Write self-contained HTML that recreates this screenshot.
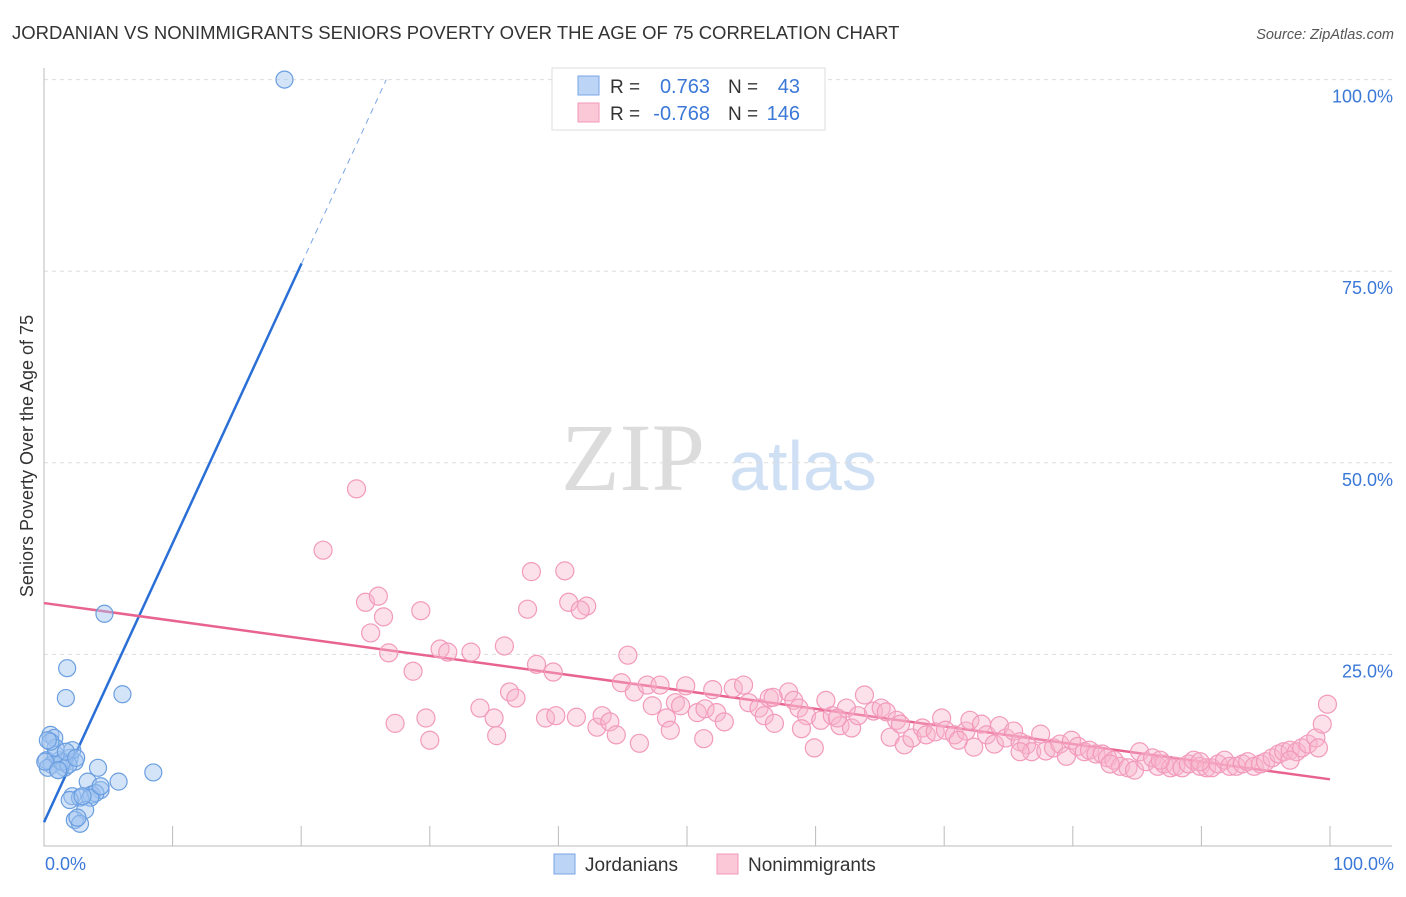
<!DOCTYPE html>
<html><head><meta charset="utf-8"><style>
body{margin:0;background:#fff;font-family:"Liberation Sans",sans-serif}
</style></head><body>
<svg id="chart" width="1406" height="892" xmlns="http://www.w3.org/2000/svg" style="font-family:'Liberation Sans',sans-serif">
<text x="12" y="39" font-size="18.5" fill="#333">JORDANIAN VS NONIMMIGRANTS SENIORS POVERTY OVER THE AGE OF 75 CORRELATION CHART</text>
<text x="1394" y="39" font-size="14.5" fill="#555" text-anchor="end" font-style="italic">Source: ZipAtlas.com</text>
<g>
<text x="633" y="490" font-size="96" fill="#dcdcdc" text-anchor="middle" font-family="'Liberation Serif',serif">ZIP</text>
<text x="803" y="490" font-size="70" fill="#cfe0f5" text-anchor="middle">atlas</text>
</g>
<g id="grid"></g>
<g id="axes"></g>
<g id="lines"></g>
<g id="pts"></g>
<text transform="translate(33,456) rotate(-90)" font-size="18" fill="#333" text-anchor="middle">Seniors Poverty Over the Age of 75</text>
<text x="45" y="870" font-size="18" fill="#3b78d8">0.0%</text>
<text x="1394" y="870" font-size="18" fill="#3b78d8" text-anchor="end">100.0%</text>
<g>
<rect x="552" y="68" width="273" height="62" fill="#fff" stroke="#ddd"/>
<rect x="578" y="76" width="21" height="19" fill="#bcd4f6" stroke="#7aa6e6"/>
<rect x="578" y="103" width="21" height="19" fill="#fbc8d8" stroke="#f09ab8"/>
<text x="610" y="93" font-size="19" fill="#333">R =</text><text x="710" y="93" font-size="20" fill="#3b78d8" text-anchor="end">0.763</text>
<text x="728" y="93" font-size="19" fill="#333">N =</text><text x="800" y="93" font-size="20" fill="#3b78d8" text-anchor="end">43</text>
<text x="610" y="120" font-size="19" fill="#333">R =</text><text x="710" y="120" font-size="20" fill="#3b78d8" text-anchor="end">-0.768</text>
<text x="728" y="120" font-size="19" fill="#333">N =</text><text x="800" y="120" font-size="20" fill="#3b78d8" text-anchor="end">146</text>
</g>
<g>
<rect x="554" y="854" width="21" height="20" fill="#bcd4f6" stroke="#7aa6e6"/>
<text x="585" y="871" font-size="19" fill="#333">Jordanians</text>
<rect x="717" y="854" width="21" height="20" fill="#fbc8d8" stroke="#f09ab8"/>
<text x="748" y="871" font-size="19" fill="#333">Nonimmigrants</text>
</g>
</svg>
<script>
const yTicks=[25,50,75,100];
const blueX=[18.7,4.7,1.8,1.7,6.1,8.5,0.5,0.8,0.2,0.6,1.2,2.0,2.4,1.6,2.2,0.3,1.1,4.2,3.4,5.8,4.4,3.7,4.0,2.2,2.8,3.6,3.2,2.4,2.8,2.6,1.4,0.9,1.9,0.1,0.9,1.7,2.5,2.0,3.0,4.4,1.1,0.5,0.3];
const blueY=[100,30.3,23.2,19.3,19.8,9.6,14.5,14.1,11.2,10.6,11.2,11.5,11.0,10.2,12.5,10.2,9.9,10.2,8.4,8.4,7.3,6.7,6.9,6.5,6.3,6.3,4.7,3.4,2.9,3.7,11.0,11.9,10.6,11.0,12.8,12.3,11.5,6.0,6.5,7.8,9.9,13.6,13.8];
const pinkX=[24.3,21.7,25.0,26.0,25.4,26.4,26.8,29.3,28.7,27.3,29.7,30.8,31.4,33.2,35.8,37.9,40.5,37.6,40.8,42.2,41.7,38.3,39.6,36.2,36.7,33.9,35.0,35.2,39.0,39.8,41.4,43.0,43.4,44.0,44.5,46.3,45.4,44.9,45.9,46.9,47.9,47.3,48.4,49.1,49.5,49.9,50.8,51.4,52.0,52.3,52.9,51.3,53.6,54.4,54.8,55.6,56.0,56.8,56.4,57.9,58.3,58.7,59.3,59.9,58.9,60.4,60.8,61.3,61.9,62.4,62.8,63.3,63.8,64.5,65.1,65.5,66.3,65.8,66.9,67.5,68.3,68.6,69.3,69.8,70.1,70.8,71.7,72.0,72.3,72.9,73.3,73.9,74.3,74.8,75.4,75.9,76.4,76.8,77.5,77.9,78.5,79.0,79.5,79.9,80.4,80.9,81.3,81.8,82.3,82.7,83.2,83.7,84.3,84.8,85.2,85.7,86.2,86.6,87.1,87.6,88.0,88.5,89.0,89.4,89.9,90.4,90.8,91.3,91.8,92.2,92.7,93.2,93.6,94.1,94.6,95.0,95.5,96.0,96.4,96.9,97.4,97.8,98.3,98.9,99.4,99.8,99.1,96.9,89.9,86.8,82.9,75.9,71.1,66.6,61.7,56.7,48.7,30.0];
const pinkY=[46.6,38.6,31.8,32.6,27.8,29.9,25.2,30.7,22.8,16.0,16.7,25.7,25.3,25.3,26.1,35.8,35.9,30.9,31.8,31.3,30.8,23.7,22.7,20.1,19.3,18.0,16.7,14.4,16.7,17.0,16.8,15.5,17.0,16.2,14.5,13.4,24.9,21.3,20.1,21.0,21.0,18.3,16.7,18.7,18.3,20.9,17.4,17.9,20.4,17.4,16.2,14.0,20.6,21.0,18.7,18.0,17.0,16.0,19.3,20.1,19.0,18.0,17.0,12.8,15.3,16.4,19.0,17.0,15.7,18.0,15.4,17.0,19.7,17.6,18.0,17.5,16.4,14.2,13.2,14.1,15.4,14.5,14.9,16.7,15.1,14.5,15.0,16.4,12.9,15.9,14.5,13.3,15.7,14.1,15.0,13.6,13.2,12.3,14.6,12.4,12.8,13.3,11.7,13.8,13.0,12.3,12.5,12.0,12.0,11.5,11.2,10.4,10.2,9.9,12.3,11.0,11.5,10.4,10.7,10.2,10.4,10.2,10.7,11.2,10.4,10.2,10.2,10.7,11.2,10.4,10.4,10.7,11.0,10.4,10.7,11.0,11.5,12.0,12.3,12.5,12.3,12.8,13.3,14.1,15.9,18.5,12.8,11.2,11.0,11.2,10.7,12.3,13.8,15.9,16.7,19.4,15.1,13.8];
const blueFit=[3.1,3.64];
const pinkFit=[31.7,-0.23];
const NS='http://www.w3.org/2000/svg';
const sx=v=>44+v*12.86, sy=v=>846-v*7.664;
function mk(t,a,p){const e=document.createElementNS(NS,t);for(const k in a)e.setAttribute(k,a[k]);p.appendChild(e);return e;}
const grid=document.getElementById('grid'),axes=document.getElementById('axes'),lines=document.getElementById('lines'),pts=document.getElementById('pts');
yTicks.forEach(t=>{
 const l=mk('line',{x1:44,x2:1392,y1:sy(t),y2:sy(t),stroke:'#ddd','stroke-dasharray':'4,4'},grid);
 
 
 const tx=mk('text',{x:1393,y:sy(t)+23,'font-size':18,fill:'#3b78d8','text-anchor':'end'},grid);
 tx.textContent=t.toFixed(1)+'%';
 
 
});
const ax=mk('path',{d:'M44 68V846H1392',fill:'none',stroke:'#bbb'},axes);


for(let i=0;i<=10;i++){const t=mk('line',{x1:sx(i*10),x2:sx(i*10),y1:826,y2:846,stroke:'#bbb'},axes);
 
 }
const xEnd=(76-blueFit[0])/blueFit[1], xTop=(100-blueFit[0])/blueFit[1];
const bl=mk('line',{x1:sx(0),y1:sy(blueFit[0]),x2:sx(xEnd),y2:sy(blueFit[0]+blueFit[1]*xEnd),stroke:'#2a6fd6','stroke-width':2.5},lines);


const bd=mk('line',{x1:sx(xEnd),y1:sy(blueFit[0]+blueFit[1]*xEnd),x2:sx(xTop),y2:sy(100),stroke:'#7aa6e6','stroke-width':1,'stroke-dasharray':'6,5'},lines);


const pl=mk('line',{x1:sx(0),y1:sy(pinkFit[0]),x2:sx(100),y2:sy(pinkFit[0]+pinkFit[1]*100),stroke:'#e8648f','stroke-width':2.5},lines);


pinkX.forEach((x,i)=>{const c=mk('circle',{cx:sx(x),cy:sy(pinkY[i]),r:9,fill:'rgba(248,180,202,0.4)',stroke:'#f29abb','stroke-width':1.2},pts);
 
 });
blueX.forEach((x,i)=>{const c=mk('circle',{cx:sx(x),cy:sy(blueY[i]),r:8.5,fill:'rgba(160,196,240,0.45)',stroke:'#6a9ee0','stroke-width':1.2},pts);
 
 });
</script>
</body></html>
